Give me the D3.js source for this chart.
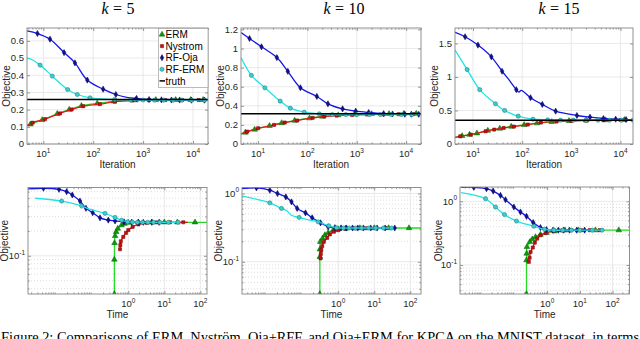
<!DOCTYPE html>
<html><head><meta charset="utf-8">
<script src="https://cdn.jsdelivr.net/npm/d3@7"></script>
<style>body{margin:0;background:#fff}svg{display:block}</style>
</head><body><svg id="c" width="640" height="339"></svg>
<script>
// ---------------- DATA ----------------
// each point: [x, objective, hasMarker]
// k = 5, objective vs iteration
const k5IterERM = [[4.7,0.108,0],[5.5,0.115,1],[9.5,0.14,1],[19,0.176,1],[33,0.2,1],[58,0.222,1],[120,0.236,1],[260,0.248,1],[700,0.255,1],[1800,0.257,1],[4500,0.257,1],[9000,0.257,1],[16000,0.257,1],[20000,0.257,0]];
const k5IterNys = [[4.7,0.106,0],[6.1,0.124,1],[10.8,0.145,1],[21.5,0.178,1],[36.9,0.201,1],[63,0.22,1],[136,0.232,1],[270,0.246,1],[600,0.253,1],[1300,0.255,1],[2800,0.256,1],[6000,0.256,1],[13000,0.256,1],[20000,0.256,0]];
const k5IterOja = [[4.7,0.658,0],[7.6,0.643,1],[13.6,0.61,1],[26,0.532,1],[43,0.472,1],[76,0.372,1],[158,0.319,1],[284,0.288,1],[500,0.27,0],[736,0.265,1],[1318,0.259,1],[2330,0.257,1],[3700,0.256,1],[5400,0.256,1],[9300,0.255,1],[17000,0.255,1],[20000,0.255,0]];
const k5IterRF  = [[4.7,0.501,0],[6,0.49,0],[8.6,0.459,1],[15.1,0.395,1],[30.7,0.317,1],[47.9,0.288,1],[86,0.269,1],[150,0.262,0],[270,0.259,1],[560,0.256,1],[1000,0.256,1],[1700,0.255,1],[2600,0.255,1],[4000,0.255,1],[6000,0.255,1],[9300,0.255,1],[17000,0.255,1],[20000,0.255,0]];
const k5Truth = 0.259;
// k = 10
const k10IterERM = [[4.5,0.108,0],[5.5,0.12,1],[8.5,0.152,1],[17,0.19,1],[30,0.22,1],[55,0.245,1],[110,0.27,1],[200,0.288,1],[420,0.302,1],[900,0.31,1],[2000,0.315,1],[4500,0.316,1],[9000,0.318,1],[16000,0.318,1],[20000,0.318,0]];
const k10IterNys = [[4.5,0.105,0],[6,0.13,1],[10,0.165,1],[21,0.2,1],[34.6,0.225,1],[62,0.246,1],[127,0.274,1],[220,0.288,1],[390,0.298,1],[800,0.305,1],[1600,0.309,1],[3500,0.31,1],[7000,0.312,1],[14000,0.313,1],[20000,0.313,0]];
const k10IterOja = [[4.5,1.168,0],[6.7,1.105,1],[11.7,1.018,1],[24,0.905,1],[40,0.761,1],[72,0.589,1],[155,0.498,1],[260,0.421,1],[515,0.368,1],[950,0.344,1],[1740,0.33,1],[3500,0.318,1],[5300,0.314,1],[9400,0.312,1],[12700,0.312,1],[18000,0.311,1],[20000,0.311,0]];
const k10IterRF  = [[4.5,0.905,0],[7.3,0.719,1],[13.7,0.589,1],[28,0.449,1],[45,0.375,1],[86,0.333,1],[174,0.316,1],[318,0.309,1],[600,0.308,1],[1000,0.308,1],[1800,0.308,1],[3000,0.308,1],[5000,0.308,1],[8000,0.308,1],[13000,0.308,1],[20000,0.308,0]];
const k10Truth = 0.316;
// k = 15
const k15IterERM = [[4.3,0.1,0],[6,0.12,1],[8.5,0.14,1],[12,0.16,1],[20,0.2,1],[35,0.23,1],[60,0.26,1],[110,0.285,1],[200,0.31,1],[400,0.33,1],[900,0.345,1],[2000,0.352,1],[5000,0.357,1],[12000,0.36,1],[20000,0.36,0]];
const k15IterNys = [[4.3,0.1,0],[5.5,0.115,1],[9,0.14,1],[18,0.19,1],[27,0.215,1],[42,0.24,1],[68,0.26,1],[130,0.29,1],[240,0.32,1],[500,0.335,1],[1000,0.345,1],[2000,0.35,1],[4500,0.355,1],[10000,0.358,1],[20000,0.36,0]];
const k15IterOja = [[4.3,1.665,0],[6.9,1.6,1],[12.6,1.475,1],[23.6,1.3,1],[39,1.085,1],[55,0.95,0],[76,0.81,1],[86,0.775,0],[96,0.8,0],[148,0.69,1],[257,0.59,1],[480,0.49,1],[1300,0.425,1],[2400,0.4,1],[4500,0.38,1],[8000,0.37,1],[13000,0.365,1],[20000,0.36,0]];
const k15IterRF  = [[4.3,1.4,0],[7.6,1.11,1],[13.7,0.81,1],[28.6,0.6,1],[44,0.5,1],[83,0.415,1],[166,0.37,1],[330,0.36,1],[600,0.355,1],[1100,0.355,1],[2000,0.355,1],[3500,0.355,1],[6000,0.355,1],[10500,0.355,1],[18000,0.355,1],[20000,0.355,0]];
const k15Truth = 0.355;

// objective vs time
const k5TimeERM = [[0.41,0.0344,1],[0.41,0.09,1],[0.412,0.117,0],[0.415,0.143,1],[0.43,0.174,1],[0.46,0.195,1],[0.51,0.214,1],[0.65,0.235,1],[0.78,0.245,1],[1.0,0.252,1],[1.9,0.255,1],[4.5,0.255,1],[10,0.255,1],[23,0.255,1],[71,0.255,1],[153,0.255,0]];
const k5TimeNys = [[0.588,0.12,1],[0.6,0.135,1],[0.62,0.15,1],[0.726,0.17,1],[0.863,0.19,1],[1.0,0.205,1],[1.32,0.224,1],[1.9,0.24,1],[3.25,0.25,1],[6.2,0.254,1],[14.4,0.255,1],[33.6,0.255,1],[45,0.255,0]];
const k5TimeOja = [[0.00164,0.648,0],[0.0044,0.66,1],[0.0119,0.641,1],[0.0194,0.6,1],[0.0278,0.547,1],[0.0455,0.462,1],[0.0668,0.377,1],[0.1026,0.333,1],[0.1637,0.289,1],[0.278,0.271,1],[0.428,0.265,1],[0.76,0.258,1],[1.24,0.256,1],[1.9,0.255,1],[2.6,0.255,1],[4.5,0.255,1],[7.2,0.255,1]];
const k5TimeRF  = [[0.0026,0.499,0],[0.0141,0.462,1],[0.03,0.43,0],[0.0507,0.402,1],[0.08,0.37,0],[0.14,0.345,0],[0.225,0.327,1],[0.428,0.292,1],[0.655,0.27,1],[0.95,0.258,1],[1.3,0.256,1],[1.8,0.255,1],[2.5,0.255,1],[3.5,0.255,1],[5,0.255,1],[7.5,0.255,1],[13,0.255,1],[24,0.255,1]];
const k10TimeERM = [[0.31,0.0337,1],[0.31,0.118,1],[0.311,0.152,1],[0.318,0.196,1],[0.369,0.22,1],[0.427,0.246,1],[0.527,0.266,1],[0.726,0.29,1],[1.0,0.3,1],[1.6,0.308,1],[4,0.312,1],[10,0.312,1],[25,0.312,1],[92,0.312,1],[198,0.312,0]];
const k10TimeNys = [[0.324,0.112,1],[0.33,0.13,1],[0.34,0.148,1],[0.36,0.169,1],[0.4,0.196,1],[0.495,0.224,1],[0.588,0.252,1],[0.76,0.275,1],[1.0,0.29,1],[1.6,0.303,1],[3,0.308,1],[6,0.31,1],[11,0.312,1],[20,0.312,1],[30,0.312,0]];
const k10TimeOja = [[0.0021,1.18,0],[0.0054,1.21,1],[0.0127,1.117,1],[0.0207,1.0,1],[0.0353,0.892,1],[0.0507,0.754,1],[0.0727,0.604,1],[0.124,0.52,1],[0.19,0.44,1],[0.324,0.372,1],[0.527,0.325,1],[0.81,0.316,1],[1.2,0.313,1],[1.7,0.312,1],[2.5,0.312,1],[3.5,0.312,1],[5,0.312,1],[8,0.312,1],[12,0.312,1],[20,0.312,1],[37,0.312,1]];
const k10TimeRF  = [[0.00215,0.913,0],[0.0127,0.729,1],[0.0268,0.604,1],[0.038,0.56,0],[0.05,0.48,0],[0.0826,0.446,1],[0.15,0.41,0],[0.278,0.384,1],[0.552,0.336,1],[0.9,0.315,1],[1.4,0.312,1],[2,0.312,1],[3,0.312,1],[4.5,0.312,1],[7,0.312,1],[11,0.312,1],[18,0.312,1],[30,0.312,1]];
const k15TimeERM = [[0.233,0.035,1],[0.233,0.119,1],[0.236,0.151,1],[0.24,0.192,1],[0.294,0.23,1],[0.348,0.254,1],[0.44,0.276,1],[0.624,0.3,1],[0.95,0.32,1],[1.67,0.34,1],[3.5,0.35,1],[9,0.352,1],[30,0.352,1],[155,0.352,1],[330,0.352,0]];
const k15TimeNys = [[0.274,0.112,1],[0.29,0.13,1],[0.31,0.16,1],[0.363,0.188,1],[0.418,0.225,1],[0.494,0.26,1],[0.624,0.293,1],[0.89,0.318,1],[1.6,0.34,1],[2.8,0.348,1],[5.5,0.352,1],[11,0.352,1],[20,0.352,1],[40,0.352,1],[50,0.352,0]];
const k15TimeOja = [[0.00234,1.66,0],[0.0057,1.66,1],[0.0139,1.58,1],[0.0223,1.45,1],[0.0373,1.24,1],[0.053,1.06,1],[0.0955,0.814,1],[0.152,0.68,1],[0.233,0.582,1],[0.373,0.464,1],[0.624,0.387,1],[0.95,0.36,1],[1.5,0.352,1],[2.2,0.352,1],[3.2,0.352,1],[4.8,0.352,1],[8,0.352,1],[14,0.352,1],[21,0.352,0]];
const k15TimeRF  = [[0.00234,1.37,0],[0.013,1.1,1],[0.0262,0.814,1],[0.0494,0.619,1],[0.115,0.49,1],[0.389,0.406,1],[0.83,0.364,1],[1.6,0.352,1],[3,0.352,1],[5.5,0.352,1],[10,0.352,1],[24,0.352,1],[48,0.352,1]];

// ticks / labels
const iterTicks = [10, 100, 1000, 10000];
const timeTicks = [1, 10, 100];
const logYTicks = [0.1, 1];
const k5YTicks = [0, 0.1, 0.2, 0.3, 0.4, 0.5, 0.6];
const k10YTicks = [0, 0.2, 0.4, 0.6, 0.8, 1, 1.2];
const k15YTicks = [0, 0.5, 1, 1.5];
const kValues = ['5', '10', '15'];
const legendNames = ['ERM', 'Nystrom', 'RF-Oja', 'RF-ERM', 'truth'];
const caption = 'Figure 2: Comparisons of ERM, Nyström, Oja+RFF, and Oja+ERM for KPCA on the MNIST dataset, in terms';

// ---------------- STYLE / LAYOUT ----------------
const FONT = '"Liberation Sans", Arial, Helvetica, sans-serif';
const SERIF = '"Liberation Serif", "DejaVu Serif", serif';
const TXT = '#262626';
const styles = {
  erm:  {line:'#22dd22', fill:'#0b9a0b', stroke:'#066006', sym:d3.symbolTriangle, size:14},
  nys:  {line:'#e21a1a', fill:'#c21010', stroke:'#780000', sym:d3.symbolSquare, size:10},
  oja:  {line:'#1515ee', fill:'#12128c', stroke:'#000055', sym:d3.symbolDiamond, size:11},
  rf:   {line:'#22e4e4', fill:'#3ccccc', stroke:'#177a7a', sym:d3.symbolCircle, size:14}
};
const order = ['erm','nys','oja','rf'];

const panels = [
  {id:'p1', l:27, r:208, t:28, b:144, xd:[4.7,2e4], yd:[0,0.675], ylog:false, yt:k5YTicks, xt:iterTicks, k:kValues[0], tx:118, ylx:6.5, xl:'Iteration', xly:168,
   s:{erm:k5IterERM,nys:k5IterNys,oja:k5IterOja,rf:k5IterRF}, truth:k5Truth, legend:true},
  {id:'p2', l:241, r:421, t:28, b:144, xd:[4.5,2e4], yd:[0,1.215], ylog:false, yt:k10YTicks, xt:iterTicks, k:kValues[1], tx:344, ylx:220.5, xl:'Iteration', xly:168,
   s:{erm:k10IterERM,nys:k10IterNys,oja:k10IterOja,rf:k10IterRF}, truth:k10Truth},
  {id:'p3', l:455, r:633, t:28, b:144, xd:[4.3,1.8e4], yd:[0,1.73], ylog:false, yt:k15YTicks, xt:iterTicks, k:kValues[2], tx:559, ylx:434.5, xl:'Iteration', xly:168,
   s:{erm:k15IterERM,nys:k15IterNys,oja:k15IterOja,rf:k15IterRF}, truth:k15Truth},
  {id:'p4', l:28, r:207, t:187.5, b:294, xd:[0.00164,153], yd:[0.0344,0.674], ylog:true, yt:logYTicks, xt:timeTicks, ylx:4, xl:'Time', xly:318,
   s:{erm:k5TimeERM,nys:k5TimeNys,oja:k5TimeOja,rf:k5TimeRF}},
  {id:'p5', l:242, r:421, t:187.5, b:294, xd:[0.00215,198], yd:[0.0337,1.224], ylog:true, yt:logYTicks, xt:timeTicks, ylx:218, xl:'Time', xly:318,
   s:{erm:k10TimeERM,nys:k10TimeNys,oja:k10TimeOja,rf:k10TimeRF}},
  {id:'p6', l:460, r:629.5, t:187, b:294, xd:[0.00215,330], yd:[0.035,1.68], ylog:true, yt:logYTicks, xt:timeTicks, ylx:438, xl:'Time', xly:318,
   s:{erm:k15TimeERM,nys:k15TimeNys,oja:k15TimeOja,rf:k15TimeRF}}
];

const svg = d3.select('#c');
svg.append('rect').attr('width',640).attr('height',339).attr('fill','#fff');
const defs = svg.append('defs');

function pow10Label(sel, v){
  const e = Math.round(Math.log10(v));
  sel.append('tspan').text('10');
  sel.append('tspan').attr('dy',-4.5).attr('font-size',6.5).text(String(e));
}

function drawPanel(p){
  const x = d3.scaleLog().domain(p.xd).range([p.l,p.r]);
  const y = (p.ylog ? d3.scaleLog() : d3.scaleLinear()).domain(p.yd).range([p.b,p.t]);
  const g = svg.append('g');
  defs.append('clipPath').attr('id','clip-'+p.id).append('rect')
    .attr('x',p.l).attr('y',p.t).attr('width',p.r-p.l).attr('height',p.b-p.t);

  const isMajor = v => Math.abs(Math.log10(v) - Math.round(Math.log10(v))) < 1e-9;
  const xMinor = x.ticks().filter(v => !isMajor(v));
  const ytv = p.yt.filter(v => v >= p.yd[0] && v <= p.yd[1]);
  const yMinor = p.ylog ? y.ticks().filter(v => !isMajor(v)) : [];

  // grid
  const grid = g.append('g');
  if (p.ylog){
    grid.selectAll('.ym').data(yMinor).join('line')
      .attr('x1',p.l).attr('x2',p.r).attr('y1',d=>y(d)).attr('y2',d=>y(d))
      .attr('stroke','#cfcfcf').attr('stroke-width',0.7).attr('stroke-dasharray','1,2');
  }
  grid.selectAll('.yg').data(ytv).join('line')
    .attr('x1',p.l).attr('x2',p.r).attr('y1',d=>y(d)).attr('y2',d=>y(d))
    .attr('stroke','#e3e3e3').attr('stroke-width',0.8);
  grid.selectAll('.xg').data(p.xt).join('line')
    .attr('y1',p.t).attr('y2',p.b).attr('x1',d=>x(d)).attr('x2',d=>x(d))
    .attr('stroke','#e3e3e3').attr('stroke-width',0.8);

  // ticks via d3 axes (inward)
  const h = p.b - p.t;
  const mk = (axisFn, sc, vals, len, tr) => {
    const a = g.append('g').attr('transform',tr)
      .call(axisFn(sc).tickValues(vals).tickSize(len).tickFormat(''));
    a.select('.domain').remove();
    a.selectAll('line').attr('stroke','#555').attr('stroke-width',0.6);
  };
  mk(d3.axisBottom, x, p.xt, -3, `translate(0,${p.b})`);
  mk(d3.axisBottom, x, xMinor, -1.6, `translate(0,${p.b})`);
  mk(d3.axisTop, x, p.xt, -3, `translate(0,${p.t})`);
  mk(d3.axisTop, x, xMinor, -1.6, `translate(0,${p.t})`);
  mk(d3.axisLeft, y, ytv, -3, `translate(${p.l},0)`);
  mk(d3.axisRight, y, ytv, -3, `translate(${p.r},0)`);
  if (p.ylog){
    mk(d3.axisLeft, y, yMinor, -1.6, `translate(${p.l},0)`);
    mk(d3.axisRight, y, yMinor, -1.6, `translate(${p.r},0)`);
  }

  // series
  const plot = g.append('g').attr('clip-path',`url(#clip-${p.id})`);
  const line = d3.line().x(d=>x(d[0])).y(d=>y(d[1])).curve(d3.curveCatmullRom.alpha(0.5));
  order.forEach(key => {
    const st = styles[key], data = p.s[key];
    plot.append('path').datum(data).attr('d',line).attr('fill','none')
      .attr('stroke',st.line).attr('stroke-width',1.3).attr('stroke-linejoin','round');
    plot.selectAll('.m'+key).data(data.filter(d=>d[2])).join('path')
      .attr('transform',d=>`translate(${x(d[0])},${y(d[1])})`)
      .attr('d', d3.symbol().type(st.sym).size(st.size))
      .attr('fill',st.fill).attr('stroke',st.stroke).attr('stroke-width',0.5);
  });
  if (p.truth !== undefined){
    plot.append('line').attr('x1',p.l).attr('x2',p.r)
      .attr('y1',y(p.truth)).attr('y2',y(p.truth))
      .attr('stroke','#000').attr('stroke-width',1.5);
  }

  // box
  g.append('rect').attr('x',p.l).attr('y',p.t).attr('width',p.r-p.l).attr('height',h)
    .attr('fill','none').attr('stroke','#858585').attr('stroke-width',0.9);

  // tick labels
  const lab = g.append('g').attr('font-family',FONT).attr('font-size',9.5).attr('fill',TXT);
  p.xt.forEach(v => {
    const t = lab.append('text').attr('x',x(v)).attr('y',p.b+13).attr('text-anchor','middle');
    pow10Label(t, v);
  });
  ytv.forEach(v => {
    const t = lab.append('text').attr('x',p.l-3).attr('y',y(v)+3.4).attr('text-anchor','end');
    if (p.ylog) pow10Label(t, v); else t.text(String(v));
  });
  // axis labels
  lab.append('text').attr('x',(p.l+p.r)/2).attr('y',p.xly).attr('text-anchor','middle')
    .attr('font-size',10).text(p.xl);
  lab.append('text').attr('transform',`translate(${p.ylx+3.5},${(p.t+p.b)/2}) rotate(-90)`)
    .attr('text-anchor','middle').attr('font-size',10).text('Objective');

  // title
  if (p.k){
    const t = svg.append('text').attr('x',p.tx).attr('y',14).attr('text-anchor','middle')
      .attr('font-family',SERIF).attr('font-size',16).attr('fill','#000');
    t.append('tspan').attr('font-style','italic').text('k');
    t.append('tspan').attr('dx',4.5).text('=');
    t.append('tspan').attr('dx',4.5).text(p.k);
  }

  // legend
  if (p.legend){
    const lg = svg.append('g').attr('font-family',FONT).attr('font-size',10).attr('fill','#000');
    lg.append('rect').attr('x',158.5).attr('y',28.5).attr('width',49.5).attr('height',59)
      .attr('fill','#fff').attr('stroke','#a0a0a0').attr('stroke-width',0.7);
    legendNames.forEach((name,i) => {
      const yy = 34.5 + i*11.6;
      if (i < 4){
        const st = styles[order[i]];
        lg.append('path').attr('transform',`translate(162,${yy})`)
          .attr('d', d3.symbol().type(st.sym).size(st.size))
          .attr('fill',st.fill).attr('stroke',st.stroke).attr('stroke-width',0.5);
      } else {
        lg.append('line').attr('x1',159.5).attr('x2',165).attr('y1',yy).attr('y2',yy)
          .attr('stroke','#000').attr('stroke-width',1.5);
      }
      lg.append('text').attr('x',165.5).attr('y',yy+3.6).text(name);
    });
  }
}

panels.forEach(drawPanel);

svg.append('text').attr('x',1).attr('y',342).attr('font-family',SERIF).attr('font-size',15)
  .attr('fill','#000').attr('textLength',638).attr('lengthAdjust','spacingAndGlyphs').text(caption);
</script></body></html>
